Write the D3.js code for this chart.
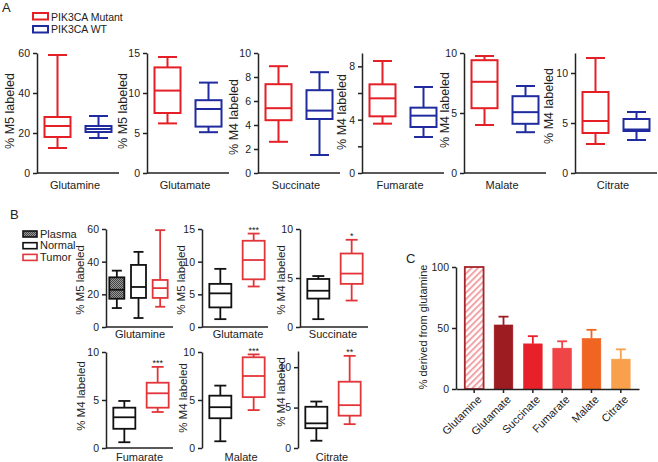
<!DOCTYPE html>
<html><head><meta charset="utf-8">
<script src="https://cdn.jsdelivr.net/npm/d3@7"></script>
<style>
html,body{margin:0;padding:0;background:#fff;}
svg{display:block;font-family:"Liberation Sans",Arial,sans-serif;}
</style></head>
<body><svg id="c" width="658" height="462"></svg>
<script>
// ---------- DATA ----------
// Panel A: box stats [min, q1, median, q3, max]
const aMetabolites = ["Glutamine","Glutamate","Succinate","Fumarate","Malate","Citrate"];
const aGroups = ["PIK3CA Mutant","PIK3CA WT"];
const aYTitles = ["% M5 labeled","% M5 labeled","% M4 labeled","% M4 labeled","% M4 labeled","% M4 labeled"];
const aYMax = [60,15,10,9,10,12];
const aTicks = [[0,20,40,60],[0,5,10,15],[0,2,4,6,8,10],[0,2,4,6,8],[0,5,10],[0,5,10]];
const aTickLabels = [[0,20,40,60],[0,5,10,15],[0,2,4,6,8,10],[0,4,8],[0,5,10],[0,5,10]];
const aMutant = [
  [12.5,18,23.5,28,59],
  [6.2,7.5,10.3,13.2,14.5],
  [2.6,4.4,5.4,7.4,8.9],
  [3.7,4.25,5.6,6.65,8.4],
  [4.0,5.4,7.6,9.4,9.75],
  [2.9,4.0,5.2,8.1,11.5]
];
const aWT = [
  [17.5,20.5,22,23.5,28.5],
  [5.1,5.8,8.0,9.1,11.3],
  [1.5,4.5,5.2,6.9,8.4],
  [2.7,3.45,4.3,4.9,6.45],
  [3.4,4.1,5.07,6.4,7.25],
  [3.3,4.2,4.35,5.4,6.1]
];
// Panel B
const bMetabolites = ["Glutamine","Glutamate","Succinate","Fumarate","Malate","Citrate"];
const bGroups = ["Plasma","Normal","Tumor"];
const bYTitles = ["% M5 labeled","% M5 labeled","% M4 labeled","% M4 labeled","% M4 labeled","% M4 labeled"];
const bYMax = [60,15,10,10,10,12];
const bTicks = [[0,20,40,60],[0,5,10,15],[0,5,10],[0,5,10],[0,5,10],[0,5,10]];
const bPlasma = [[11.6,17.3,22.8,30.4,34.5],null,null,null,null,null];
const bNormal = [
  [5.5,17.8,24.5,38,46],
  [1.2,3.0,5.15,6.6,8.9],
  [0.8,2.9,3.7,4.9,5.2],
  [0.6,2.0,3.2,4.2,4.9],
  [0.7,3.1,4.25,5.45,6.5],
  [0.9,2.45,3.05,5.1,5.75]
];
const bTumor = [
  [12.4,17.8,23.8,28.8,59.3],
  [6.2,7.3,10.25,13.2,14.3],
  [2.7,4.4,5.45,7.5,8.9],
  [3.75,4.2,5.7,6.8,8.45],
  [3.95,5.3,7.5,9.45,9.75],
  [2.95,4.0,5.3,8.2,11.4]
];
const bStars = ["","***","*","***","***","**"];
// Panel C
const cCategories = ["Glutamine","Glutamate","Succinate","Fumarate","Malate","Citrate"];
const cValues = [100,52.5,37,33.5,41.5,24.5];
const cErrors = [0,6.8,6.3,5.6,7,8];
const cTicks = [0,50,100];

// ---------- STYLE / LAYOUT ----------
const svg = d3.select("#c");
const defs = svg.append("defs");
const hatch = defs.append("pattern").attr("id","hatch").attr("patternUnits","userSpaceOnUse")
  .attr("width",4.5).attr("height",4.5).attr("patternTransform","rotate(45)");
hatch.append("rect").attr("width",4.5).attr("height",4.5).attr("fill","#fff");
hatch.append("rect").attr("width",2).attr("height",4.5).attr("fill","#f2a3a6");
const check = defs.append("pattern").attr("id","check").attr("patternUnits","userSpaceOnUse")
  .attr("width",2).attr("height",2);
check.append("rect").attr("width",2).attr("height",2).attr("fill","#9a9a9a");
check.append("rect").attr("width",1).attr("height",1).attr("fill","#444");
check.append("rect").attr("x",1).attr("y",1).attr("width",1).attr("height",1).attr("fill","#444");

const AX = "#222";
const RED_A = "#e41f26", BLUE_A = "#1f2b9e", RED_B = "#e2353a", BLK = "#111";

function styleAxis(g, w){
  g.selectAll(".domain").attr("stroke",AX).attr("stroke-width",w);
  g.selectAll(".tick line").attr("stroke",AX).attr("stroke-width",w);
  g.selectAll(".tick text").attr("fill","#222").style("font-size","10.5px")
    .style("font-family","Liberation Sans, Arial, sans-serif");
}

function drawBox(g, y, cx, bw, capW, s, color, lw, fill){
  const [mn,q1,md,q3,mx] = s;
  const gg = g.append("g").attr("fill","none").attr("stroke",color).attr("stroke-width",lw);
  gg.append("line").attr("x1",cx).attr("x2",cx).attr("y1",y(q3)).attr("y2",y(mx));
  gg.append("line").attr("x1",cx).attr("x2",cx).attr("y1",y(q1)).attr("y2",y(mn));
  gg.append("line").attr("x1",cx-capW/2).attr("x2",cx+capW/2).attr("y1",y(mx)).attr("y2",y(mx));
  gg.append("line").attr("x1",cx-capW/2).attr("x2",cx+capW/2).attr("y1",y(mn)).attr("y2",y(mn));
  gg.append("rect").attr("x",cx-bw/2).attr("width",bw).attr("y",y(q3)).attr("height",y(q1)-y(q3))
    .attr("fill",fill||"none");
  gg.append("line").attr("x1",cx-bw/2).attr("x2",cx+bw/2).attr("y1",y(md)).attr("y2",y(md));
}

function panelLetter(t,x,y){
  svg.append("text").attr("x",x).attr("y",y).text(t).style("font-size","13px").attr("fill","#222");
}

// ---------- PANEL A ----------
panelLetter("A",2,12);
const aAxisX = [37,147,258,362,464,575];
const aTitleX = [14,127,238,346,449,553];
const aTitleY = [111,111,117,112,110,106];
aMetabolites.forEach((m,i)=>{
  const x0 = aAxisX[i];
  const y = d3.scaleLinear().domain([0,aYMax[i]]).range([173,53]);
  const x = d3.scalePoint().domain(aGroups).range([x0,x0+82]).padding(0.5);
  const g = svg.append("g");
  const ya = g.append("g").attr("transform",`translate(${x0},0)`)
    .call(d3.axisLeft(y).tickValues(aTicks[i]).tickSize(4).tickSizeOuter(0)
      .tickFormat(d=>aTickLabels[i].includes(d)?d:""));
  styleAxis(ya,1.5);
  const xa = g.append("g").attr("transform","translate(0,173)")
    .call(d3.axisBottom(x).tickValues([]).tickSizeOuter(0));
  xa.select(".domain").attr("d",`M${x0},0H${x0+82}`);
  styleAxis(xa,1.5);
  drawBox(g,y,x(aGroups[0]),26,19,aMutant[i],RED_A,2);
  drawBox(g,y,x(aGroups[1]),26,19,aWT[i],BLUE_A,2);
  g.append("text").attr("x",x0+38).attr("y",189).attr("text-anchor","middle")
    .style("font-size","11px").attr("fill","#222").text(m);
  g.append("text").attr("transform",`translate(${aTitleX[i]},${aTitleY[i]}) rotate(-90)`)
    .attr("text-anchor","middle").style("font-size","12.5px").attr("fill","#222").text(aYTitles[i]);
});
// legend A
[[aGroups[0],RED_A,13,20.5],[aGroups[1],BLUE_A,26,32.5]].forEach(([t,c,ry,ty])=>{
  svg.append("rect").attr("x",33).attr("y",ry).attr("width",15).attr("height",6.5)
    .attr("fill","none").attr("stroke",c).attr("stroke-width",2);
  svg.append("text").attr("x",51).attr("y",ty).text(t).style("font-size","10.5px").attr("fill","#222");
});

// ---------- PANEL B ----------
panelLetter("B",10,219);
const bAxisX = [106,202,300,106,202,298];
const bBottom = [327,327,327,448,448,448];
const bTop = [229,229,229,352,352,351];
const bTitleX = [84,185,285,85,187,285];
const bTitleY = [280,280,280,396,398,392];
const bXLen = [67,66,68,67,0,0];
const bLabelX = [140,238,333,139.5,241,332];
const bLabelY = [338,338,338,461,461,461];
bMetabolites.forEach((m,i)=>{
  const x0 = bAxisX[i];
  const y = d3.scaleLinear().domain([0,bYMax[i]]).range([bBottom[i],bTop[i]]);
  const g = svg.append("g");
  const ya = g.append("g").attr("transform",`translate(${x0},0)`)
    .call(d3.axisLeft(y).tickValues(bTicks[i]).tickSize(4).tickSizeOuter(0));
  styleAxis(ya,1.5);
  if(bXLen[i]>0){
    g.append("line").attr("x1",x0).attr("x2",x0+bXLen[i]).attr("y1",bBottom[i]).attr("y2",bBottom[i])
      .attr("stroke",AX).attr("stroke-width",1.5);
  }
  if(bPlasma[i]){
    const x = d3.scalePoint().domain(bGroups).range([x0,x0+65]).padding(0.5);
    drawBox(g,y,x("Plasma"),15,10,bPlasma[i],BLK,1.8,"url(#check)");
    drawBox(g,y,x("Normal"),15,10,bNormal[i],BLK,1.8);
    drawBox(g,y,x("Tumor"),15,10,bTumor[i],RED_B,1.8);
  } else {
    const x = d3.scalePoint().domain(["Normal","Tumor"]).range([x0,x0+70]).padding(0.55);
    drawBox(g,y,x("Normal"),22,12,bNormal[i],BLK,1.8);
    drawBox(g,y,x("Tumor"),22,12,bTumor[i],RED_B,1.8);
    if(bStars[i]){
      g.append("text").attr("x",x("Tumor")).attr("y",y(bTumor[i][4])-0.5).attr("text-anchor","middle")
        .style("font-size","9px").attr("fill","#222").text(bStars[i]);
    }
  }
  g.append("text").attr("x",bLabelX[i]).attr("y",bLabelY[i]).attr("text-anchor","middle")
    .style("font-size","11px").attr("fill","#222").text(m);
  g.append("text").attr("transform",`translate(${bTitleX[i]},${bTitleY[i]}) rotate(-90)`)
    .attr("text-anchor","middle").style("font-size","11.5px").attr("fill","#222").text(bYTitles[i]);
});
// legend B
const bLegFill = ["url(#check)","none","none"];
const bLegStroke = [BLK,BLK,RED_B];
bGroups.forEach((t,k)=>{
  svg.append("rect").attr("x",23).attr("y",231+k*11.7).attr("width",14).attr("height",6)
    .attr("fill",bLegFill[k]).attr("stroke",bLegStroke[k]).attr("stroke-width",1.6);
  svg.append("text").attr("x",40).attr("y",237.5+k*11.7).text(t).style("font-size","11px").attr("fill","#222");
});

// ---------- PANEL C ----------
panelLetter("C",406,263);
const cColors = ["url(#hatch)","#9c1c22","#e8202a","#ef4547","#f16522","#f8a04b"];
const cStroke = ["#a3262a","#9c1c22","#e8202a","#ef4547","#f16522","#f8a04b"];
const cy = d3.scaleLinear().domain([0,100]).range([389,267]);
const cx = d3.scaleBand().domain(cCategories).range([456,639]).paddingInner(0.36).paddingOuter(0.3);
const cg = svg.append("g");
cg.selectAll("rect.bar").data(cCategories).join("rect").attr("class","bar")
  .attr("x",d=>cx(d)).attr("width",cx.bandwidth())
  .attr("y",(d,i)=>cy(cValues[i])).attr("height",(d,i)=>cy(0)-cy(cValues[i]))
  .attr("fill",(d,i)=>cColors[i]).attr("stroke",(d,i)=>cStroke[i]).attr("stroke-width",(d,i)=>i===0?1.8:0.5);
cCategories.forEach((d,i)=>{
  if(!cErrors[i]) return;
  const mx = cx(d)+cx.bandwidth()/2;
  cg.append("line").attr("x1",mx).attr("x2",mx).attr("y1",cy(cValues[i])).attr("y2",cy(cValues[i]+cErrors[i]))
    .attr("stroke",cStroke[i]).attr("stroke-width",1.8);
  cg.append("line").attr("x1",mx-5).attr("x2",mx+5).attr("y1",cy(cValues[i]+cErrors[i])).attr("y2",cy(cValues[i]+cErrors[i]))
    .attr("stroke",cStroke[i]).attr("stroke-width",1.8);
});
const cya = cg.append("g").attr("transform","translate(456,0)")
  .call(d3.axisLeft(cy).tickValues(cTicks).tickSize(4).tickSizeOuter(0));
styleAxis(cya,1.5);
const cxa = cg.append("g").attr("transform","translate(0,389)")
  .call(d3.axisBottom(cx).tickSize(4).tickSizeOuter(0));
styleAxis(cxa,1.5);
cxa.selectAll(".tick text").attr("text-anchor","end").attr("dx","-0.2em").attr("dy","0.6em")
  .attr("transform","rotate(-45)").style("font-size","11px");
cg.append("text").attr("transform","translate(427,327) rotate(-90)").attr("text-anchor","middle")
  .style("font-size","11px").attr("fill","#222").text("% derived from glutamine");
</script></body></html>
